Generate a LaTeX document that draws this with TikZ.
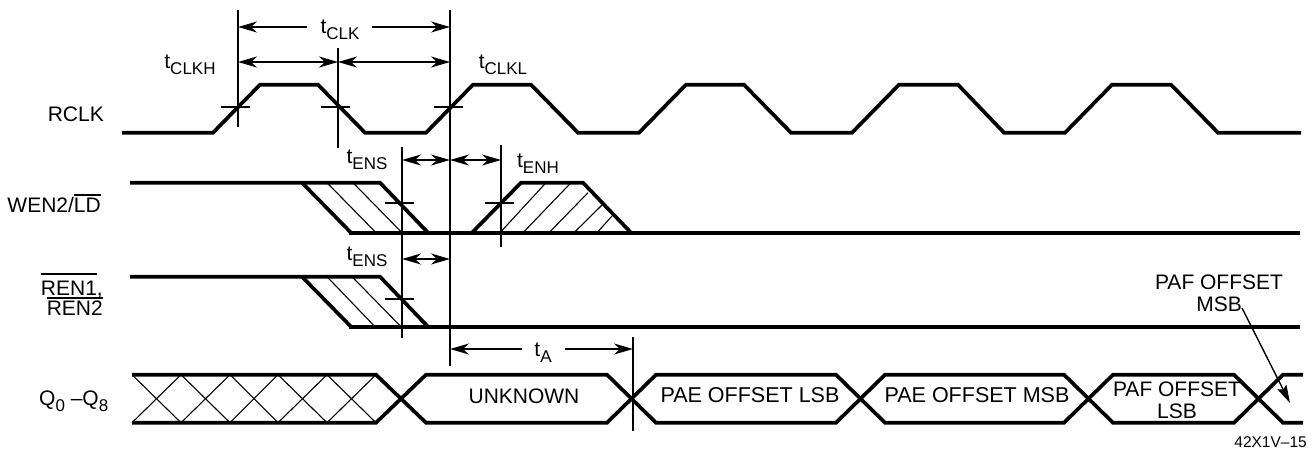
\documentclass[tikz,border=0pt]{standalone}
\usepackage{fontspec}
\setmainfont{Liberation Sans}
\usetikzlibrary{arrows.meta}

% Subscript used by the timing labels.
\newcommand{\subtext}[1]{\raisebox{-0.27em}{\fontsize{17}{17}\selectfont #1}}
% Active low names, the first argument is the gap under the bar.
\newcommand{\barred}[2]{\vbox{\hrule height 1.7pt \kern #1 \hbox{#2}}}

\tikzset{
    signal/.style = {line width = 3.7pt, line join = miter},
    hatch/.style = {line width = 1.1pt},
    guide/.style = {line width = 1.7pt},
    tick/.style = {line width = 1.6pt},
    dimension/.style = {line width = 1.4pt},
    label/.style = {font = \fontsize{21}{22}\selectfont, inner sep = 0pt, align = center},
    signalname/.style = {font = \fontsize{21}{22}\selectfont, inner sep = 0pt}
}

\begin{document}
\begin{tikzpicture}[%
        x = 1pt,
        y = -1pt,
        > = {Stealth[length = 19pt, width = 11pt, inset = 6pt]}
    ]
        \useasboundingbox (0, 0) rectangle (1316, 451);

        % Clock waveform.
        \draw[signal] (122, 132.7) to (213, 132.7) to (260, 84.7) to (318, 84.7)
            to (365, 132.7) to (426, 132.7) to (473, 84.7) to (531, 84.7)
            to (578, 132.7) to (639, 132.7) to (686, 84.7) to (744, 84.7)
            to (791, 132.7) to (852, 132.7) to (899, 84.7) to (958, 84.7)
            to (1004, 132.7) to (1065, 132.7) to (1112, 84.7) to (1171, 84.7)
            to (1218, 132.7) to (1301, 132.7);

        % Second and third waveforms.
        \draw[signal] (130, 182.7) to (380, 182.7) to (428, 232.7);
        \draw[signal] (302, 182.7) to (351, 232.7);
        \draw[signal] (349, 232.7) to (1300, 232.7);
        \draw[signal] (472, 232.7) to (521, 182.7) to (583, 182.7) to (631, 232.7);
        \draw[signal] (130, 276.7) to (380, 276.7) to (428, 326.7);
        \draw[signal] (302, 276.7) to (351, 326.7);
        \draw[signal] (349, 326.7) to (1300, 326.7);

        % Hatching of the edges.
        \draw[hatch] (327, 182.7) to (376, 232.7);
        \draw[hatch] (353, 182.7) to (402, 232.7);
        \draw[hatch] (500, 232.7) to (546, 182.7);
        \draw[hatch] (523, 232.7) to (571, 182.7);
        \draw[hatch] (549, 232.7) to (588, 192.7);
        \draw[hatch] (574, 232.7) to (602, 205);
        \draw[hatch] (597, 232.7) to (612, 216);
        \draw[hatch] (327, 276.7) to (375, 326.7);
        \draw[hatch] (352, 276.7) to (401, 326.7);

        % Data bus, the unknown part first.
        \draw[signal] (132, 374.7) to (376, 374.7) to (426, 422.7) to (607, 422.7)
            to (656, 374.7) to (836, 374.7) to (885, 422.7) to (1064, 422.7)
            to (1113, 374.7) to (1234, 374.7) to (1283, 422.7) to (1303, 422.7);
        \draw[signal] (132, 422.7) to (376, 422.7) to (426, 374.7) to (607, 374.7)
            to (656, 422.7) to (836, 422.7) to (885, 374.7) to (1064, 374.7)
            to (1113, 422.7) to (1234, 422.7) to (1283, 374.7) to (1303, 374.7);
        \foreach \xa/\xb in {132/181, 181/230, 230/278, 278/327, 327/376}{
            \draw[hatch] (\xa, 374.7) to (\xb, 422.7);
            \draw[hatch] (\xa, 422.7) to (\xb, 374.7);
        }

        % Vertical reference lines.
        \draw[guide] (238, 10) to (238, 127);
        \draw[guide] (338, 48) to (338, 148);
        \draw[guide] (450, 10) to (450, 366);
        \draw[guide] (402, 147) to (402, 338);
        \draw[guide] (501, 145) to (501, 247);
        \draw[guide] (633, 337) to (633, 431);

        % Ticks where the edges cross their midpoints.
        \foreach \xpos/\ypos in {235/107, 335.5/107, 448.5/107, 399.5/203, 499.5/203, 399.5/299}{
            \draw[tick] (\xpos - 14.5, \ypos) to (\xpos + 14.5, \ypos);
        }

        % Timing labels.
        \node[label] (tclk) at (340, 30) {t\subtext{CLK}};
        \node[label] (tclkh) at (190, 65) {t\subtext{CLKH}};
        \node[label] (tclkl) at (503, 65) {t\subtext{CLKL}};
        \node[label] (tensa) at (367, 160) {t\subtext{ENS}};
        \node[label] (tenh) at (538, 164) {t\subtext{ENH}};
        \node[label] (tensb) at (367, 257) {t\subtext{ENS}};
        \node[label] (ta) at (543, 353) {t\subtext{A}};

        % Dimension arrows.
        \draw[dimension, ->] (307, 27) to (238, 27);
        \draw[dimension, ->] (372, 27) to (450, 27);
        \draw[dimension, <->] (238, 62) to (338, 62);
        \draw[dimension, <->] (338, 62) to (450, 62);
        \draw[dimension, <->] (402, 160) to (450, 160);
        \draw[dimension, <->] (450, 160) to (501, 160);
        \draw[dimension, <->] (402, 259) to (450, 259);
        \draw[dimension, ->] (522, 349) to (450, 349);
        \draw[dimension, ->] (565, 349) to (633, 349);

        % Signal names.
        \node[signalname, anchor = base east] (rclk) at (104, 121.5) {RCLK};
        \node[signalname, anchor = base east] (wen) at (101, 212.5) {WEN2/\barred{2.5pt}{LD}};
        \node[signalname, anchor = base east] (rena) at (103, 295.5) {\barred{6pt}{REN1},};
        \node[signalname, anchor = base east] (renb) at (103, 315.5) {\barred{2pt}{REN2}};
        \node[signalname, anchor = base west] (qbus) at (39, 405.5) {Q\subtext{0} --Q\subtext{8}};

        % Texts on the bus.
        \node[label] (unknown) at (524, 396) {UNKNOWN};
        \node[label, font = \fontsize{21.5}{23}\selectfont] (paelsb) at (750, 395) {PAE OFFSET LSB};
        \node[label, font = \fontsize{21.5}{23}\selectfont] (paemsb) at (977, 395) {PAE OFFSET MSB};
        \node[label] (paflsb) at (1177, 400) {PAF OFFSET\\LSB};

        % Callout at the right end of the bus.
        \node[label] (pafmsb) at (1219, 293) {PAF OFFSET\\MSB};
        \coordinate (pafmsbend) at (1290, 403);
        \draw[line width = 1.4pt, -{Stealth[length = 18pt, width = 10pt, inset = 3pt]}] (1242, 308) to (pafmsbend);

        \node[inner sep = 0pt, font = \fontsize{15.5}{17}\selectfont, anchor = east] (partno) at (1307, 442) {42X1V--15};
    \end{tikzpicture}
\end{document}
